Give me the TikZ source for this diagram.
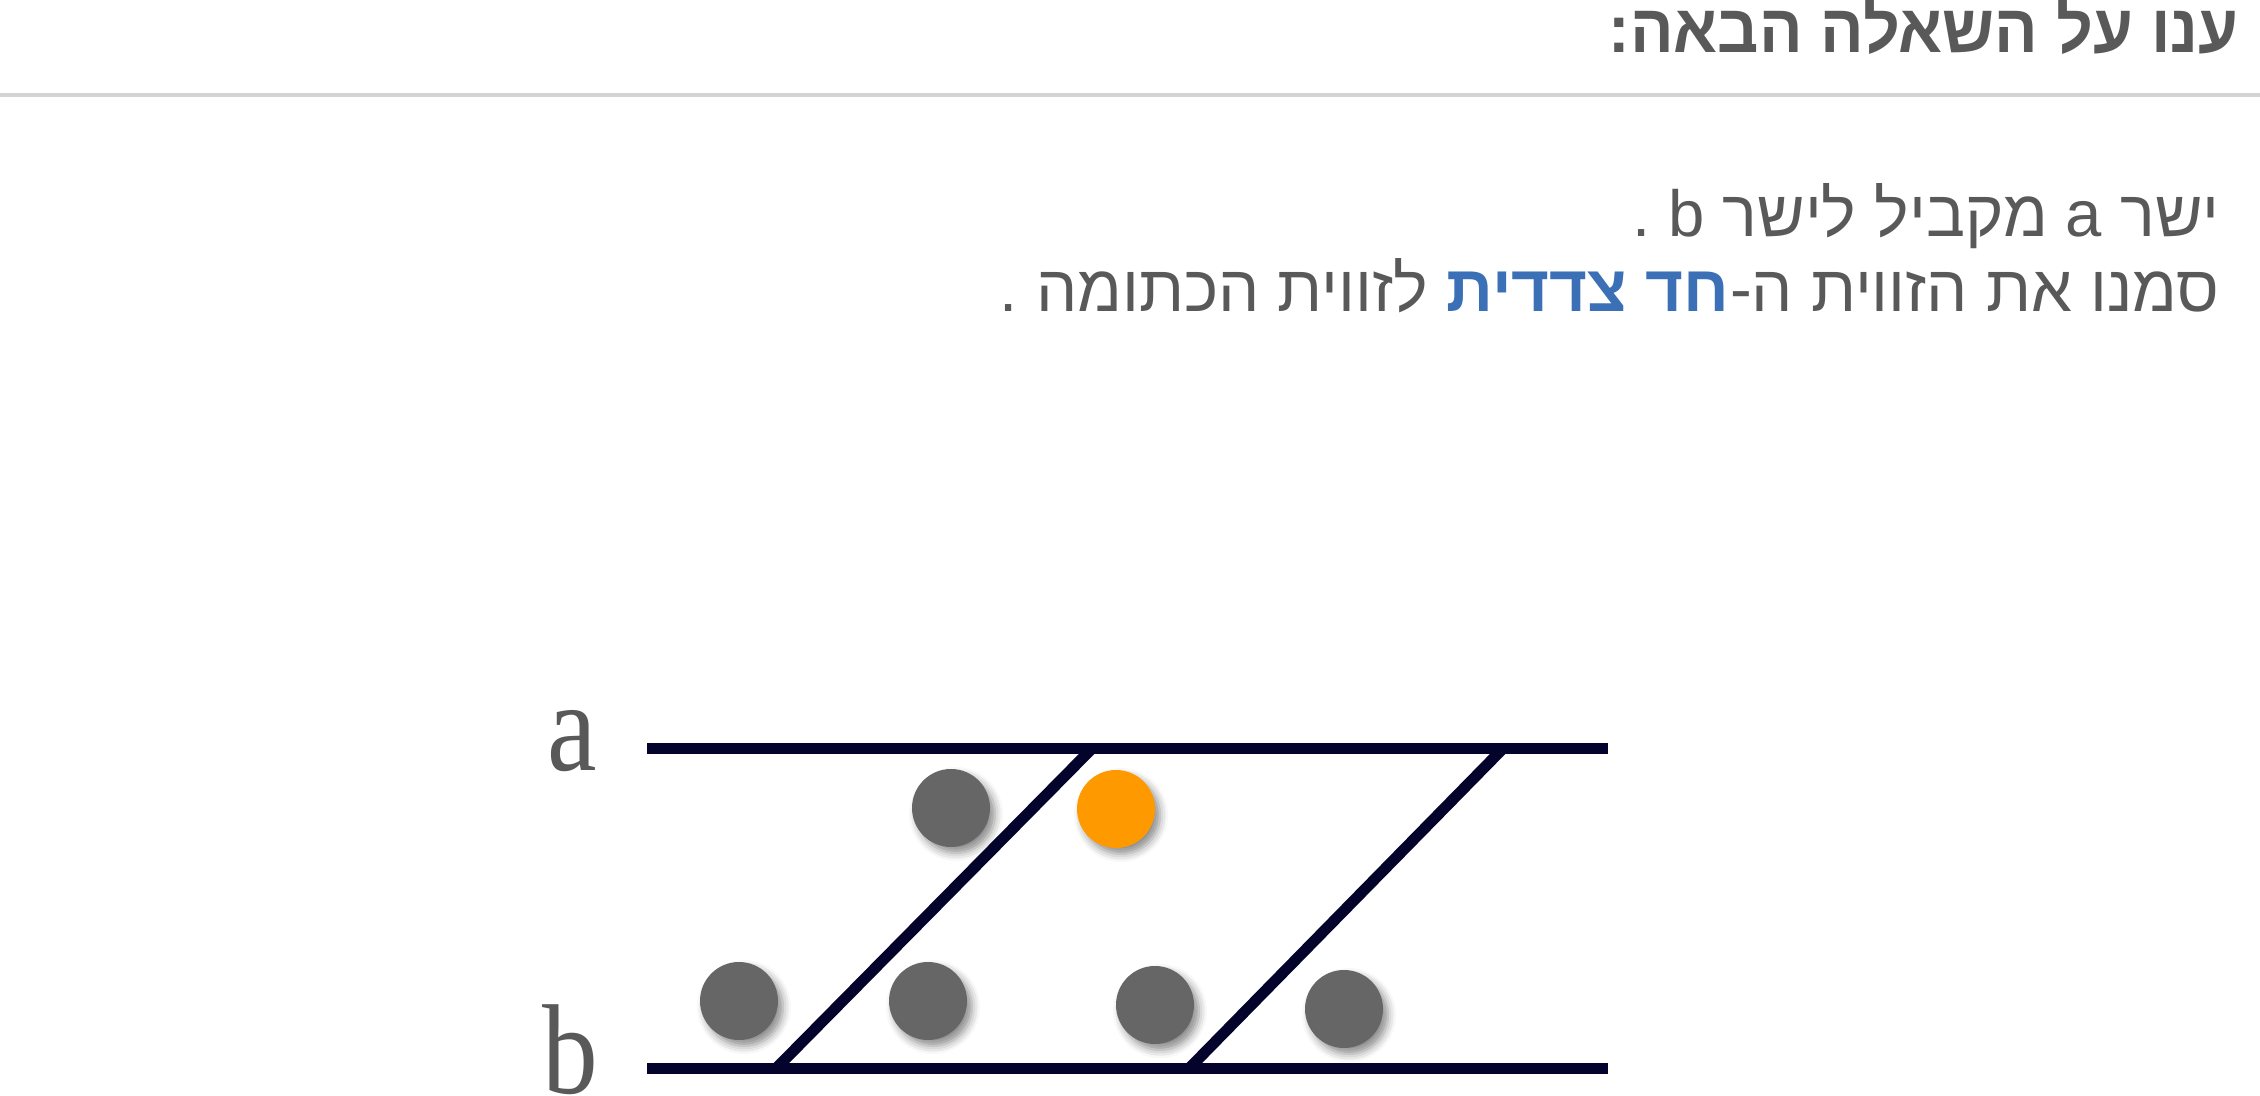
\documentclass[tikz,border=0pt]{standalone}
\usepackage{fontspec}
\usetikzlibrary{positioning, shadows.blur}
\TeXXeTstate=1
\newfontfamily\hebfont[Script=Hebrew]{Liberation Sans}
\newfontfamily\headfont[Script=Hebrew, FakeStretch=0.95]{Liberation Sans}
\newfontfamily\labelfont[FakeStretch=0.87]{Liberation Serif}
\definecolor{txtgray}{HTML}{595959}
\definecolor{hiblue}{HTML}{3B6FB6}
\definecolor{linenavy}{HTML}{03032B}
\definecolor{dotgray}{HTML}{666666}
\definecolor{dotorange}{HTML}{FF9900}
\definecolor{rulegray}{HTML}{D3D3D3}

\begin{document}
\begin{tikzpicture}[x=0.5pt, y=-0.5pt,
  parline/.style={linenavy, line width=5.5pt},
  dot/.style={circle, minimum size=39pt, inner sep=0pt, fill=dotgray,
    blur shadow={shadow xshift=2.5pt, shadow yshift=-3pt, shadow opacity=45, shadow blur radius=4pt}},
  hebtext/.style={anchor=base east, inner sep=0pt, text=txtgray, font=\hebfont\fontsize{32.6}{38}\selectfont},
  letterlabel/.style={anchor=base, inner sep=0pt, text=txtgray, font=\labelfont\fontsize{64}{70}\selectfont}]
\useasboundingbox (0,0) rectangle (2260,1096);

%the heading
\node [hebtext, font=\headfont\bfseries\fontsize{34}{40}\selectfont] (title) at (2239,53) {\beginR ענו על השאלה הבאה:\endR};
\coordinate (ruleL) at (0,95);
\coordinate (ruleR) at (2260,95);
\draw [rulegray, line width=2pt] (ruleL) -- (ruleR);

%the question
\node [hebtext] (askA) at (2220,237) {\beginR ישר a מקביל לישר b .\endR};
\node [hebtext] (askB) at (2220,312) {\beginR סמנו את הזווית ה-\endR};
\node [hebtext, font=\hebfont\bfseries\fontsize{32.6}{38}\selectfont, text=hiblue, base left=0pt of askB] (askBold) {\beginR חד צדדית\endR};
\node [hebtext, base left=9pt of askBold] (askC) {\beginR לזווית הכתומה .\endR};

%the parallel lines
\coordinate (aL) at (647,748.5);
\coordinate (aR) at (1608,748.5);
\coordinate (bL) at (647,1068.5);
\coordinate (bR) at (1608,1068.5);
\draw [parline] (aL) -- (aR);
\draw [parline] (bL) -- (bR);
\node [letterlabel] (labA) at (572,770) {a};
\node [letterlabel] (labB) at (570,1093) {b};

%the transversals
\coordinate (top1) at (1092,748.5);
\coordinate (foot1) at (776,1068.5);
\coordinate (top2) at (1503,748.5);
\coordinate (foot2) at (1189,1068.5);
\draw [parline] (top1) -- (foot1);
\draw [parline] (top2) -- (foot2);

%the angle marks
\node [dot] (angA) at (951,808) {};
\node [dot, fill=dotorange] (angB) at (1116,809) {};
\node [dot] (angC) at (739,1001) {};
\node [dot] (angD) at (928,1001) {};
\node [dot] (angE) at (1155,1005) {};
\node [dot] (angF) at (1344,1009) {};
\end{tikzpicture}
\end{document}
